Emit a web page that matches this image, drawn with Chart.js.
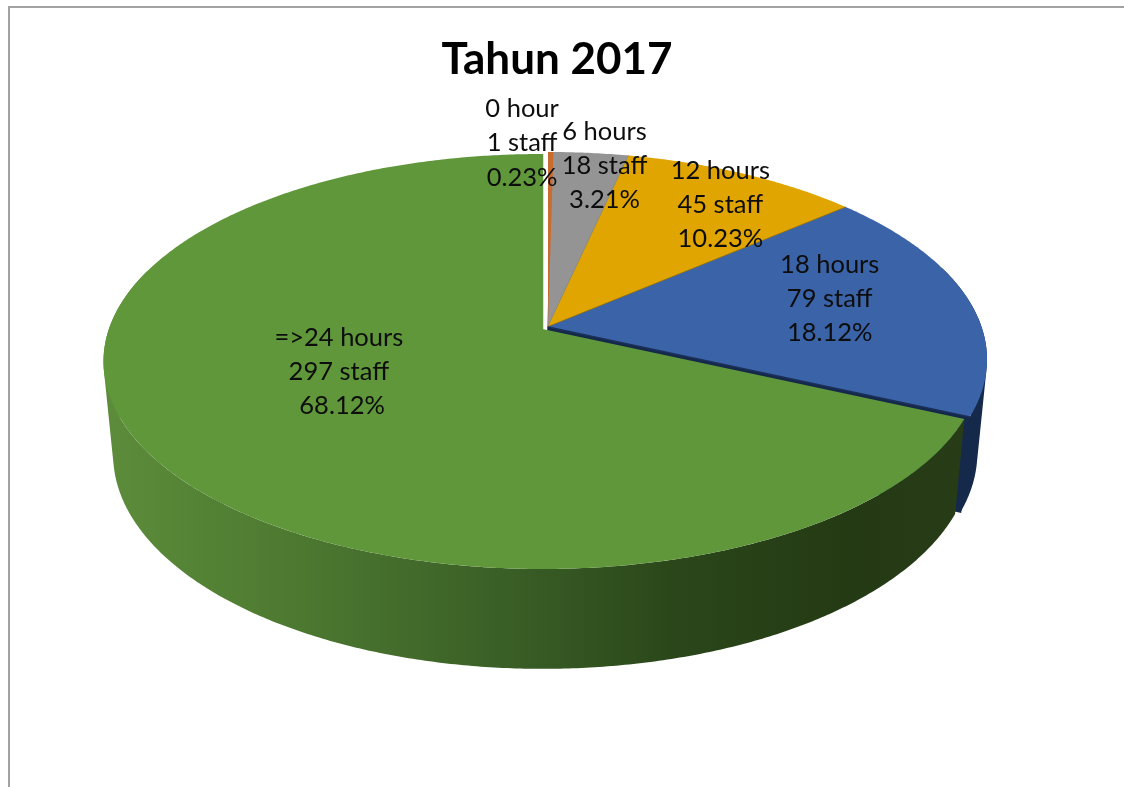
<!DOCTYPE html>
<html>
<head>
<meta charset="utf-8">
<title>Tahun 2017</title>
<script src="https://cdn.jsdelivr.net/npm/chart.js@4/dist/chart.umd.js"></script>
<style>
  html, body { margin: 0; padding: 0; background: #fff; overflow: hidden; }
  #frame { position: absolute; left: 8px; top: 6px; right: 0; bottom: 0; border-top: 2px solid #a2a2a2; border-left: 2px solid #a2a2a2; }
  #chart { position: absolute; left: 0; top: 0; }
</style>
</head>
<body>
<div id="frame"></div>
<canvas id="chart" width="1124" height="787"></canvas>
<script>
const hourLabels = ['0 hour', '6 hours', '12 hours', '18 hours', '=>24 hours'];
const staffCounts = [1, 18, 45, 79, 297];
const staffPercents = [0.23, 3.21, 10.23, 18.12, 68.12];
const sliceColors = ['#c96c30', '#949494', '#e0a500', '#3a63a8', '#5f973a'];
const edgeColors = ['#c96c30', '#8a8676', '#94760f', '#1b3058', '#5f973a'];
const wallColors = ['#7a4018', '#555555', '#7a5c00', '#15294b', '#3a5c22'];
const explodeOffsets = [[0, 0], [0, 0], [0, 0], [0, 0], [-5.5, 2]];
// label block centre, relative to the point 3/4 out on the slice's mid angle
const labelShifts = [[-28, -48], [23, -26], [21, -4], [-35, -7], [83, -43]];
const labelIndents = [['', '', ''], ['', '', ''], ['', '', ''], ['', '', ''], ['', '', ' ']];

// tilted disc: perspective projection of the pie's top face
const disc = { x: 548, y: 327, a: 433.6, b: 202.4, p: 0.1566 };

function project(theta, r) {
  const w = 1 + disc.p * r * Math.cos(theta);
  return [disc.x + disc.a * r * Math.sin(theta) / w, disc.y - disc.b * r * Math.cos(theta) / w];
}

// same point on the lower rim of the pie
function lower(pt) {
  return [disc.x + (pt[0] - disc.x) * 0.978, pt[1] + 95 + 0.032 * (pt[1] - 415)];
}

function angles(el) {
  return [el.startAngle + Math.PI / 2, el.endAngle + Math.PI / 2];
}

function moved(pt, off) {
  return [pt[0] + off[0], pt[1] + off[1]];
}

function drawWall(ctx, el, i, fill) {
  const [start, end] = angles(el);
  const off = explodeOffsets[i];
  const step = Math.PI / 360;
  ctx.beginPath();
  for (let t = start; t < end; t += step) {
    const next = Math.min(t + step, end);
    if (Math.cos(t) > 0.3 && Math.cos(next) > 0.3) continue;
    const a = project(t, 1), b = project(next, 1);
    const quad = [a, b, lower(b), lower(a)].map(pt => moved(pt, off));
    let area = 0;
    quad.forEach((q, k) => {
      const n = quad[(k + 1) % 4];
      area += q[0] * n[1] - n[0] * q[1];
    });
    if (area < 0) quad.reverse();
    quad.forEach((q, k) => k ? ctx.lineTo(q[0], q[1]) : ctx.moveTo(q[0], q[1]));
    ctx.closePath();
  }
  ctx.fillStyle = fill;
  ctx.fill('nonzero');
}

function drawCutFace(ctx, el, i) {
  const end = angles(el)[1];
  const rim = project(end, 1);
  const apex = [disc.x, disc.y];
  ctx.beginPath();
  [apex, rim, lower(rim), lower(apex)].forEach((q, k) => k ? ctx.lineTo(q[0], q[1]) : ctx.moveTo(q[0], q[1]));
  ctx.closePath();
  ctx.fillStyle = wallColors[i];
  ctx.strokeStyle = wallColors[i];
  ctx.lineWidth = 1.5;
  ctx.fill();
  ctx.stroke();
}

function drawTop(ctx, el, i) {
  const [start, end] = angles(el);
  const off = explodeOffsets[i];
  const steps = Math.max(2, Math.ceil((end - start) / (Math.PI / 360)));
  ctx.beginPath();
  ctx.moveTo(disc.x + off[0], disc.y + off[1]);
  for (let s = 0; s <= steps; s++) {
    const pt = moved(project(start + (end - start) * s / steps, 1), off);
    ctx.lineTo(pt[0], pt[1]);
  }
  ctx.closePath();
  ctx.fillStyle = el.options.backgroundColor;
  ctx.fill();
  // darker line along the clockwise cut edge
  const rim = moved(project(end, 1), off);
  ctx.beginPath();
  ctx.moveTo(disc.x + off[0], disc.y + off[1]);
  ctx.lineTo(rim[0], rim[1]);
  ctx.strokeStyle = edgeColors[i];
  ctx.lineWidth = 1.5;
  ctx.stroke();
}

function drawLabel(ctx, el, i) {
  const [start, end] = angles(el);
  const c = moved(project((start + end) / 2, 0.75), labelShifts[i]);
  const lines = [hourLabels[i], staffCounts[i] + ' staff', staffPercents[i].toFixed(2) + '%'];
  ctx.font = '25.5px Lato, "Open Sans", sans-serif';
  ctx.fillStyle = '#0d0d0d';
  ctx.textAlign = 'center';
  ctx.textBaseline = 'middle';
  lines.forEach((line, k) => ctx.fillText(labelIndents[i][k] + line, c[0], c[1] + (k - 1) * 34.3));
}

const pie3d = {
  id: 'pie3d',
  beforeDatasetsDraw(chart) {
    const ctx = chart.ctx;
    const arcs = chart.getDatasetMeta(0).data;
    const green = ctx.createLinearGradient(100, 0, 980, 0);
    green.addColorStop(0, '#5d8d3b');
    green.addColorStop(0.2, '#4e7b31');
    green.addColorStop(0.36, '#426a2b');
    green.addColorStop(0.5, '#375a24');
    green.addColorStop(0.65, '#2b471a');
    green.addColorStop(0.85, '#243a14');
    green.addColorStop(1, '#273c17');
    ctx.save();
    arcs.forEach((el, i) => { if (i !== 4) drawWall(ctx, el, i, wallColors[i]); });
    drawCutFace(ctx, arcs[3], 3);
    drawWall(ctx, arcs[4], 4, green);
    arcs.forEach((el, i) => drawTop(ctx, el, i));
    arcs.forEach((el, i) => drawLabel(ctx, el, i));
    ctx.restore();
    return false; // native flat arcs are replaced by the tilted ones above
  }
};

new Chart(document.getElementById('chart'), {
  type: 'pie',
  data: {
    labels: hourLabels,
    datasets: [{
      data: staffPercents,
      backgroundColor: sliceColors,
      borderWidth: 0
    }]
  },
  options: {
    responsive: false,
    animation: false,
    layout: { padding: { right: 10 } },
    plugins: {
      legend: { display: false },
      tooltip: { enabled: false },
      title: {
        display: true,
        text: 'Tahun 2017',
        color: '#000',
        font: { family: 'Lato, "Open Sans", sans-serif', size: 44, weight: 'bold' },
        padding: { top: 33, bottom: 10 }
      }
    }
  },
  plugins: [pie3d]
});
</script>
</body>
</html>
